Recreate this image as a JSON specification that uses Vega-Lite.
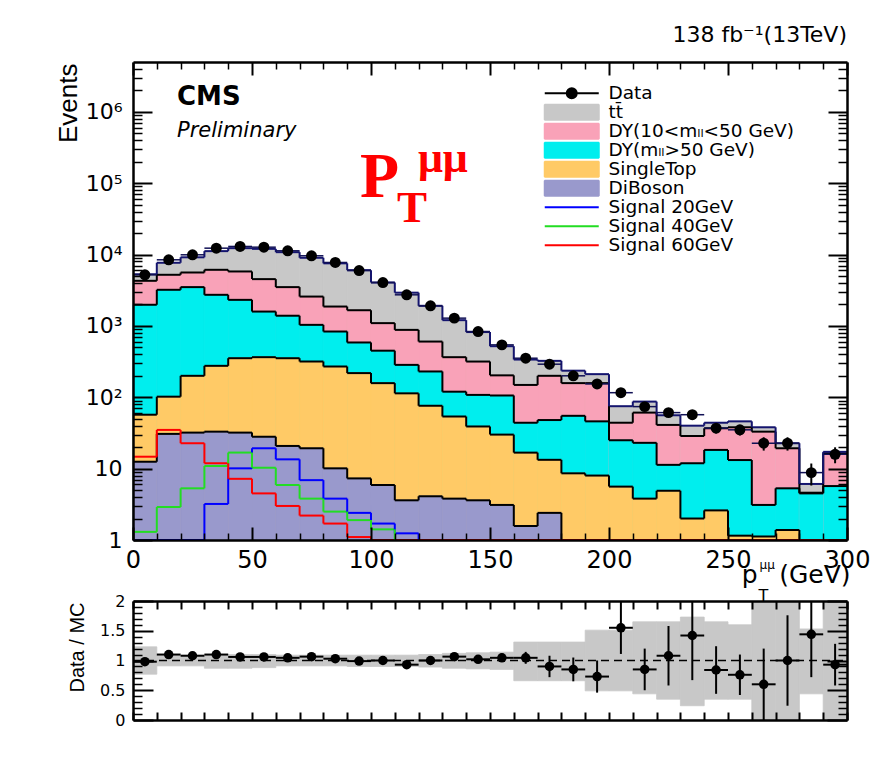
{
  "$schema": "https://vega.github.io/schema/vega-lite/v6.json",
  "background": "white",
  "autosize": {"type": "none"},
  "padding": {"left": 133, "top": 62, "right": 746, "bottom": 709},
  "bounds": "flush",
  "spacing": 61,
  "datasets": {
    "bins": [
      {"lo": 0, "hi": 10, "mid": 5, "tt\u0304": 1010, "DY(10<m\u2097\u2097<50 GeV)": 2310, "DY(m\u2097\u2097>50 GeV)": 1923, "SingleTop": 44.5, "DiBoson": 12.5, "Signal 20GeV": 0, "Signal 40GeV": 1.3, "Signal 60GeV": 14.7, "Data": 5210, "dData": 72, "ratio": 0.98, "dRatio": 0.03, "mcLo": 0.77, "mcHi": 1.23},
      {"lo": 10, "hi": 20, "mid": 15, "tt\u0304": 2470, "DY(10<m\u2097\u2097<50 GeV)": 2000, "DY(m\u2097\u2097>50 GeV)": 3108, "SingleTop": 71.3, "DiBoson": 30.7, "Signal 20GeV": 0, "Signal 40GeV": 2.9, "Signal 60GeV": 34.9, "Data": 8450, "dData": 92, "ratio": 1.1, "dRatio": 0.03, "mcLo": 0.91, "mcHi": 1.09},
      {"lo": 20, "hi": 30, "mid": 25, "tt\u0304": 3550, "DY(10<m\u2097\u2097<50 GeV)": 2110, "DY(m\u2097\u2097>50 GeV)": 3300, "SingleTop": 168, "DiBoson": 32, "Signal 20GeV": 0, "Signal 40GeV": 5.3, "Signal 60GeV": 22.7, "Data": 9930, "dData": 100, "ratio": 1.08, "dRatio": 0.03, "mcLo": 0.91, "mcHi": 1.09},
      {"lo": 30, "hi": 40, "mid": 35, "tt\u0304": 5060, "DY(10<m\u2097\u2097<50 GeV)": 3390, "DY(m\u2097\u2097>50 GeV)": 2454, "SingleTop": 243, "DiBoson": 33, "Signal 20GeV": 3.2, "Signal 40GeV": 10.9, "Signal 60GeV": 11.9, "Data": 12300, "dData": 111, "ratio": 1.1, "dRatio": 0.03, "mcLo": 0.87, "mcHi": 1.1},
      {"lo": 40, "hi": 50, "mid": 45, "tt\u0304": 6510, "DY(10<m\u2097\u2097<50 GeV)": 3480, "DY(m\u2097\u2097>50 GeV)": 1967, "SingleTop": 321, "DiBoson": 32, "Signal 20GeV": 10.1, "Signal 40GeV": 16.8, "Signal 60GeV": 7.2, "Data": 13000, "dData": 114, "ratio": 1.06, "dRatio": 0.03, "mcLo": 0.87, "mcHi": 1.1},
      {"lo": 50, "hi": 60, "mid": 55, "tt\u0304": 7500, "DY(10<m\u2097\u2097<50 GeV)": 2940, "DY(m\u2097\u2097>50 GeV)": 1225, "SingleTop": 337, "DiBoson": 28, "Signal 20GeV": 19.3, "Signal 40GeV": 10.3, "Signal 60GeV": 4.5, "Data": 12700, "dData": 113, "ratio": 1.06, "dRatio": 0.03, "mcLo": 0.88, "mcHi": 1.1},
      {"lo": 60, "hi": 70, "mid": 65, "tt\u0304": 7310, "DY(10<m\u2097\u2097<50 GeV)": 2110, "DY(m\u2097\u2097>50 GeV)": 1037, "SingleTop": 332, "DiBoson": 20.8, "Signal 20GeV": 13.5, "Signal 40GeV": 5.9, "Signal 60GeV": 3.0, "Data": 11300, "dData": 106, "ratio": 1.045, "dRatio": 0.03, "mcLo": 0.91, "mcHi": 1.09},
      {"lo": 70, "hi": 80, "mid": 75, "tt\u0304": 6440, "DY(10<m\u2097\u2097<50 GeV)": 1545, "DY(m\u2097\u2097>50 GeV)": 718, "SingleTop": 298, "DiBoson": 19.3, "Signal 20GeV": 6.9, "Signal 40GeV": 3.8, "Signal 60GeV": 2.2, "Data": 9620, "dData": 98, "ratio": 1.065, "dRatio": 0.03, "mcLo": 0.91, "mcHi": 1.09},
      {"lo": 80, "hi": 90, "mid": 85, "tt\u0304": 5670, "DY(10<m\u2097\u2097<50 GeV)": 1035, "DY(m\u2097\u2097>50 GeV)": 565, "SingleTop": 260, "DiBoson": 10.1, "Signal 20GeV": 3.8, "Signal 40GeV": 2.5, "Signal 60GeV": 1.7, "Data": 7750, "dData": 88, "ratio": 1.03, "dRatio": 0.03, "mcLo": 0.91, "mcHi": 1.09},
      {"lo": 90, "hi": 100, "mid": 95, "tt\u0304": 4390, "DY(10<m\u2097\u2097<50 GeV)": 1074, "DY(m\u2097\u2097>50 GeV)": 368, "SingleTop": 211, "DiBoson": 7.3, "Signal 20GeV": 2.4, "Signal 40GeV": 1.9, "Signal 60GeV": 1.1, "Data": 5980, "dData": 77, "ratio": 0.99, "dRatio": 0.03, "mcLo": 0.9, "mcHi": 1.09},
      {"lo": 100, "hi": 110, "mid": 105, "tt\u0304": 2965, "DY(10<m\u2097\u2097<50 GeV)": 645, "DY(m\u2097\u2097>50 GeV)": 292, "SingleTop": 152, "DiBoson": 5.9, "Signal 20GeV": 1.7, "Signal 40GeV": 1.41, "Signal 60GeV": 0, "Data": 4060, "dData": 64, "ratio": 1.0, "dRatio": 0.03, "mcLo": 0.9, "mcHi": 1.09},
      {"lo": 110, "hi": 120, "mid": 115, "tt\u0304": 2045, "DY(10<m\u2097\u2097<50 GeV)": 596, "DY(m\u2097\u2097>50 GeV)": 171, "SingleTop": 110, "DiBoson": 3.6, "Signal 20GeV": 1.24, "Signal 40GeV": 0, "Signal 60GeV": 0, "Data": 2730, "dData": 52, "ratio": 0.93, "dRatio": 0.03, "mcLo": 0.9, "mcHi": 1.09},
      {"lo": 120, "hi": 130, "mid": 125, "tt\u0304": 1311, "DY(10<m\u2097\u2097<50 GeV)": 374, "DY(m\u2097\u2097>50 GeV)": 154, "SingleTop": 72, "DiBoson": 4.1, "Signal 20GeV": 0, "Signal 40GeV": 0, "Signal 60GeV": 0, "Data": 1915, "dData": 44, "ratio": 1.0, "dRatio": 0.04, "mcLo": 0.89, "mcHi": 1.1},
      {"lo": 130, "hi": 140, "mid": 135, "tt\u0304": 840, "DY(10<m\u2097\u2097<50 GeV)": 245, "DY(m\u2097\u2097>50 GeV)": 66, "SingleTop": 50, "DiBoson": 3.8, "Signal 20GeV": 0, "Signal 40GeV": 0, "Signal 60GeV": 0, "Data": 1286, "dData": 36, "ratio": 1.065, "dRatio": 0.05, "mcLo": 0.87, "mcHi": 1.12},
      {"lo": 140, "hi": 150, "mid": 145, "tt\u0304": 504, "DY(10<m\u2097\u2097<50 GeV)": 209, "DY(m\u2097\u2097>50 GeV)": 69, "SingleTop": 35.4, "DiBoson": 3.6, "Signal 20GeV": 0, "Signal 40GeV": 0, "Signal 60GeV": 0, "Data": 835, "dData": 29, "ratio": 1.02, "dRatio": 0.05, "mcLo": 0.86, "mcHi": 1.13},
      {"lo": 150, "hi": 160, "mid": 155, "tt\u0304": 317, "DY(10<m\u2097\u2097<50 GeV)": 97, "DY(m\u2097\u2097>50 GeV)": 76, "SingleTop": 26.9, "DiBoson": 3.1, "Signal 20GeV": 0, "Signal 40GeV": 0, "Signal 60GeV": 0, "Data": 543, "dData": 23, "ratio": 1.045, "dRatio": 0.07, "mcLo": 0.85, "mcHi": 1.14},
      {"lo": 160, "hi": 170, "mid": 165, "tt\u0304": 189, "DY(10<m\u2097\u2097<50 GeV)": 105, "DY(m\u2097\u2097>50 GeV)": 27.2, "SingleTop": 15.2, "DiBoson": 1.57, "Signal 20GeV": 0, "Signal 40GeV": 0, "Signal 60GeV": 0, "Data": 353, "dData": 19, "ratio": 1.045, "dRatio": 0.1, "mcLo": 0.66, "mcHi": 1.31},
      {"lo": 170, "hi": 180, "mid": 175, "tt\u0304": 124, "DY(10<m\u2097\u2097<50 GeV)": 152, "DY(m\u2097\u2097>50 GeV)": 34.7, "SingleTop": 10.9, "DiBoson": 2.4, "Signal 20GeV": 0, "Signal 40GeV": 0, "Signal 60GeV": 0, "Data": 291, "dData": 17, "ratio": 0.9, "dRatio": 0.18, "mcLo": 0.66, "mcHi": 1.31},
      {"lo": 180, "hi": 190, "mid": 185, "tt\u0304": 78, "DY(10<m\u2097\u2097<50 GeV)": 103, "DY(m\u2097\u2097>50 GeV)": 46.4, "SingleTop": 8.6, "DiBoson": 0, "Signal 20GeV": 0, "Signal 40GeV": 0, "Signal 60GeV": 0, "Data": 200, "dData": 14, "ratio": 0.85, "dRatio": 0.2, "mcLo": 0.66, "mcHi": 1.31},
      {"lo": 190, "hi": 200, "mid": 195, "tt\u0304": 53, "DY(10<m\u2097\u2097<50 GeV)": 112, "DY(m\u2097\u2097>50 GeV)": 38, "SingleTop": 8.0, "DiBoson": 0, "Signal 20GeV": 0, "Signal 40GeV": 0, "Signal 60GeV": 0, "Data": 154, "dData": 12, "ratio": 0.73, "dRatio": 0.27, "mcLo": 0.49, "mcHi": 1.51},
      {"lo": 200, "hi": 210, "mid": 205, "tt\u0304": 31, "DY(10<m\u2097\u2097<50 GeV)": 19, "DY(m\u2097\u2097>50 GeV)": 19.4, "SingleTop": 5.6, "DiBoson": 0, "Signal 20GeV": 0, "Signal 40GeV": 0, "Signal 60GeV": 0, "Data": 116, "dData": 11, "ratio": 1.55, "dRatio": 0.44, "mcLo": 0.49, "mcHi": 1.51},
      {"lo": 210, "hi": 220, "mid": 215, "tt\u0304": 26, "DY(10<m\u2097\u2097<50 GeV)": 38, "DY(m\u2097\u2097>50 GeV)": 19.2, "SingleTop": 3.8, "DiBoson": 0, "Signal 20GeV": 0, "Signal 40GeV": 0, "Signal 60GeV": 0, "Data": 74, "dData": 8.6, "ratio": 0.85, "dRatio": 0.35, "mcLo": 0.44, "mcHi": 1.65},
      {"lo": 220, "hi": 230, "mid": 225, "tt\u0304": 15, "DY(10<m\u2097\u2097<50 GeV)": 29.7, "DY(m\u2097\u2097>50 GeV)": 6.4, "SingleTop": 4.9, "DiBoson": 0, "Signal 20GeV": 0, "Signal 40GeV": 0, "Signal 60GeV": 0, "Data": 61, "dData": 7.8, "ratio": 1.08, "dRatio": 0.5, "mcLo": 0.35, "mcHi": 1.65},
      {"lo": 230, "hi": 240, "mid": 235, "tt\u0304": 11.3, "DY(10<m\u2097\u2097<50 GeV)": 16.8, "DY(m\u2097\u2097>50 GeV)": 9.9, "SingleTop": 2.0, "DiBoson": 0, "Signal 20GeV": 0, "Signal 40GeV": 0, "Signal 60GeV": 0, "Data": 57, "dData": 7.5, "ratio": 1.42, "dRatio": 0.75, "mcLo": 0.24, "mcHi": 1.73},
      {"lo": 240, "hi": 250, "mid": 245, "tt\u0304": 7.2, "DY(10<m\u2097\u2097<50 GeV)": 18.5, "DY(m\u2097\u2097>50 GeV)": 15.7, "SingleTop": 2.6, "DiBoson": 0, "Signal 20GeV": 0, "Signal 40GeV": 0, "Signal 60GeV": 0, "Data": 37, "dData": 6, "ratio": 0.84, "dRatio": 0.4, "mcLo": 0.35, "mcHi": 1.65},
      {"lo": 250, "hi": 260, "mid": 255, "tt\u0304": 8, "DY(10<m\u2097\u2097<50 GeV)": 24.8, "DY(m\u2097\u2097>50 GeV)": 12.05, "SingleTop": 1.15, "DiBoson": 0, "Signal 20GeV": 0, "Signal 40GeV": 0, "Signal 60GeV": 0, "Data": 35, "dData": 5.9, "ratio": 0.76, "dRatio": 0.34, "mcLo": 0.35, "mcHi": 1.6},
      {"lo": 260, "hi": 270, "mid": 265, "tt\u0304": 5, "DY(10<m\u2097\u2097<50 GeV)": 29.9, "DY(m\u2097\u2097>50 GeV)": 1.98, "SingleTop": 1.12, "DiBoson": 0, "Signal 20GeV": 0, "Signal 40GeV": 0, "Signal 60GeV": 0, "Data": 22.7, "dData": 4.8, "ratio": 0.6, "dRatio": 0.6, "mcLo": 0, "mcHi": 2},
      {"lo": 270, "hi": 280, "mid": 275, "tt\u0304": 3.4, "DY(10<m\u2097\u2097<50 GeV)": 14, "DY(m\u2097\u2097>50 GeV)": 3.92, "SingleTop": 1.38, "DiBoson": 0, "Signal 20GeV": 0, "Signal 40GeV": 0, "Signal 60GeV": 0, "Data": 22.7, "dData": 4.8, "ratio": 1.0, "dRatio": 0.76, "mcLo": 0, "mcHi": 2},
      {"lo": 280, "hi": 290, "mid": 285, "tt\u0304": 1.5, "DY(10<m\u2097\u2097<50 GeV)": 0.1, "DY(m\u2097\u2097>50 GeV)": 4.5, "SingleTop": 0, "DiBoson": 0, "Signal 20GeV": 0, "Signal 40GeV": 0, "Signal 60GeV": 0, "Data": 8.8, "dData": 3, "ratio": 1.44, "dRatio": 0.72, "mcLo": 0.44, "mcHi": 1.53},
      {"lo": 290, "hi": 300, "mid": 295, "tt\u0304": 0.8, "DY(10<m\u2097\u2097<50 GeV)": 10.7, "DY(m\u2097\u2097>50 GeV)": 5.7, "SingleTop": 0, "DiBoson": 0, "Signal 20GeV": 0, "Signal 40GeV": 0, "Signal 60GeV": 0, "Data": 15.9, "dData": 4, "ratio": 0.93, "dRatio": 0.35, "mcLo": 0, "mcHi": 2}
    ]
  },
  "vconcat": [
    {
      "width": 714,
      "height": 478,
      "title": {"text": "138 fb\u207b\u00b9(13TeV)", "anchor": "end", "frame": "group", "font": "DejaVu Sans", "fontSize": 22, "fontWeight": "normal", "color": "black", "baseline": "alphabetic", "offset": 17, "dy": 20},
      "data": {"name": "bins"},
      "resolve": {"axis": {"x": "independent", "y": "independent"}},
      "layer": [
        {
          "transform": [
            {"fold": ["DiBoson", "SingleTop", "DY(m\u2097\u2097>50 GeV)", "DY(10<m\u2097\u2097<50 GeV)", "tt\u0304"], "as": ["key", "n"]},
            {"stack": "n", "groupby": ["lo"], "as": ["s0", "s1"]}
          ],
          "mark": {"type": "rect", "strokeWidth": 0.8},
          "encoding": {
            "x": {"field": "lo", "type": "quantitative", "scale": {"domain": [0, 300], "nice": false, "zero": false},
              "axis": {"orient": "bottom", "values": [0, 50, 100, 150, 200, 250, 300], "format": "d", "tickSize": -13, "tickWidth": 2, "domain": true, "domainWidth": 2.5, "labelFontSize": 24, "labelPadding": 21, "labelFlush": false, "labelOverlap": false, "title": "(GeV)", "titleFontSize": 25, "titleAlign": "right", "titleX": 717, "titleY": 42, "titleBaseline": "alphabetic", "zindex": 1}},
            "x2": {"field": "hi"},
            "y": {"field": "s1", "type": "quantitative", "scale": {"type": "log", "domain": [1, 5000000], "nice": false, "clamp": true},
              "axis": {"orient": "left", "values": [1, 10, 100, 1000, 10000, 100000, 1000000], "labelExpr": "datum.value < 100 ? (datum.value < 5 ? '1' : '10') : '10' + ['\u00b2','\u00b3','\u2074','\u2075','\u2076'][round(log(datum.value)/LN10) - 2]", "tickSize": -19, "tickWidth": 2, "domain": true, "domainWidth": 2.5, "labelFontSize": 22, "labelPadding": 30, "labelOverlap": false, "title": "Events", "titleFont": "Liberation Sans", "titleFontSize": 26, "titleAngle": -90, "titleAlign": "right", "titleBaseline": "alphabetic", "titleX": -57, "titleY": 1, "zindex": 1}},
            "y2": {"datum": 1},
            "color": {"field": "key", "type": "nominal",
              "scale": {"domain": ["Data", "tt\u0304", "DY(10<m\u2097\u2097<50 GeV)", "DY(m\u2097\u2097>50 GeV)", "SingleTop", "DiBoson", "Signal 20GeV", "Signal 40GeV", "Signal 60GeV"],
                "range": ["black", "#c8c8c8", "#f9a2b8", "#00eeee", "#ffca66", "#9999cc", "#0000ff", "#22dd22", "#ff0000"]},
              "legend": {
                "orient": "none", "legendX": 429.5, "legendY": 22, "title": null, "padding": 0,
                "labelFont": "DejaVu Sans", "labelFontSize": 18.5, "labelColor": "black", "labelOffset": 27.5, "labelLimit": 400,
                "rowPadding": 0, "symbolSize": 100, "symbolStrokeWidth": 2,
                "encode": {
                  "symbols": {
                    "update": {
                      "shape": {"signal": "datum.value === 'Data' ? 'M-5.4,0L5.4,0M-1,0A1,1,0,1,1,1,0A1,1,0,1,1,-1,0Z' : indexof(datum.value, 'Signal') === 0 ? 'M-5.4,0L5.4,0' : 'M-5.4,-1.5L5.4,-1.5L5.4,1.5L-5.4,1.5Z'"},
                      "fill": {"signal": "datum.value === 'Data' ? 'black' : datum.value === 'tt\u0304' ? '#c8c8c8' : indexof(datum.value, 'DY(10') === 0 ? '#f9a2b8' : indexof(datum.value, 'DY(m') === 0 ? '#00eeee' : datum.value === 'SingleTop' ? '#ffca66' : datum.value === 'DiBoson' ? '#9999cc' : 'transparent'"},
                      "stroke": {"signal": "datum.value === 'Signal 20GeV' ? '#0000ff' : datum.value === 'Signal 40GeV' ? '#22dd22' : datum.value === 'Signal 60GeV' ? '#ff0000' : 'black'"},
                      "strokeWidth": {"value": 2},
                      "strokeJoin": {"value": "bevel"},
                      "size": {"value": 100},
                      "opacity": {"value": 1}
                    }
                  }
                }
              }},
            "stroke": {"field": "key", "type": "nominal", "legend": null,
              "scale": {"domain": ["Data", "tt\u0304", "DY(10<m\u2097\u2097<50 GeV)", "DY(m\u2097\u2097>50 GeV)", "SingleTop", "DiBoson", "Signal 20GeV", "Signal 40GeV", "Signal 60GeV"],
                "range": ["black", "#c8c8c8", "#f9a2b8", "#00eeee", "#ffca66", "#9999cc", "#0000ff", "#22dd22", "#ff0000"]}},
            "order": {"field": "s1", "sort": "descending"}
          }
        },
        {
          "transform": [
            {"fold": ["DiBoson", "SingleTop", "DY(m\u2097\u2097>50 GeV)", "DY(10<m\u2097\u2097<50 GeV)", "tt\u0304"], "as": ["key", "n"]},
            {"stack": "n", "groupby": ["lo"], "as": ["s0", "s1"]}
          ],
          "mark": {"type": "rule", "strokeWidth": 2},
          "encoding": {
            "x": {"field": "lo", "type": "quantitative",
              "axis": {"orient": "bottom", "values": [10, 20, 30, 40, 60, 70, 80, 90, 110, 120, 130, 140, 160, 170, 180, 190, 210, 220, 230, 240, 260, 270, 280, 290], "tickSize": -7, "tickWidth": 1.5, "domain": false, "labels": false, "title": "p", "titleFontSize": 25, "titleAlign": "right", "titleX": 624, "titleY": 42, "titleBaseline": "alphabetic", "zindex": 1}},
            "x2": {"field": "hi"},
            "y": {"field": "s1", "type": "quantitative",
              "axis": {"orient": "left", "values": [2, 3, 4, 5, 6, 7, 8, 9, 20, 30, 40, 50, 60, 70, 80, 90, 200, 300, 400, 500, 600, 700, 800, 900, 2000, 3000, 4000, 5000, 6000, 7000, 8000, 9000, 20000, 30000, 40000, 50000, 60000, 70000, 80000, 90000, 200000, 300000, 400000, 500000, 600000, 700000, 800000, 900000, 2000000, 3000000, 4000000], "tickSize": -9, "tickWidth": 1.5, "domain": false, "labels": false, "title": null, "zindex": 1}},
            "stroke": {"condition": {"test": "datum.key === 'tt\u0304'", "value": "#14146e"}, "value": "black"}
          }
        },
        {
          "transform": [
            {"fold": ["DiBoson", "SingleTop", "DY(m\u2097\u2097>50 GeV)", "DY(10<m\u2097\u2097<50 GeV)", "tt\u0304"], "as": ["key", "n"]},
            {"stack": "n", "groupby": ["lo"], "as": ["s0", "s1"]},
            {"window": [{"op": "lag", "field": "s1", "as": "prev"}], "groupby": ["key"], "sort": [{"field": "lo", "order": "ascending"}]},
            {"filter": "datum.prev != null"}
          ],
          "mark": {"type": "rule", "strokeWidth": 2},
          "encoding": {
            "x": {"field": "lo", "type": "quantitative",
              "axis": {"orient": "top", "values": [0, 50, 100, 150, 200, 250, 300], "tickSize": -13, "tickWidth": 2, "domain": true, "domainWidth": 2.5, "labels": false, "title": "T", "titleFontSize": 16, "titleAlign": "left", "titleX": 625, "titleY": 538, "titleBaseline": "alphabetic", "zindex": 1}},
            "y": {"field": "s1", "type": "quantitative",
              "axis": {"orient": "right", "values": [1, 10, 100, 1000, 10000, 100000, 1000000], "tickSize": -19, "tickWidth": 2, "domain": true, "domainWidth": 2.5, "labels": false, "title": null, "zindex": 1}},
            "y2": {"field": "prev"},
            "stroke": {"condition": {"test": "datum.key === 'tt\u0304'", "value": "#14146e"}, "value": "black"}
          }
        },
        {
          "transform": [
            {"fold": ["Signal 20GeV", "Signal 40GeV", "Signal 60GeV"], "as": ["key", "n"]}
          ],
          "mark": {"type": "rule", "strokeWidth": 2},
          "encoding": {
            "x": {"field": "lo", "type": "quantitative",
              "axis": {"orient": "top", "values": [10, 20, 30, 40, 60, 70, 80, 90, 110, 120, 130, 140, 160, 170, 180, 190, 210, 220, 230, 240, 260, 270, 280, 290], "tickSize": -7, "tickWidth": 1.5, "domain": false, "labels": false, "title": "\u03bc\u03bc", "titleFontSize": 12, "titleAlign": "left", "titleX": 626, "titleY": 506, "titleBaseline": "alphabetic", "zindex": 1}},
            "x2": {"field": "hi"},
            "y": {"field": "n", "type": "quantitative",
              "axis": {"orient": "right", "values": [2, 3, 4, 5, 6, 7, 8, 9, 20, 30, 40, 50, 60, 70, 80, 90, 200, 300, 400, 500, 600, 700, 800, 900, 2000, 3000, 4000, 5000, 6000, 7000, 8000, 9000, 20000, 30000, 40000, 50000, 60000, 70000, 80000, 90000, 200000, 300000, 400000, 500000, 600000, 700000, 800000, 900000, 2000000, 3000000, 4000000], "tickSize": -9, "tickWidth": 1.5, "domain": false, "labels": false, "title": null, "zindex": 1}},
            "color": {"field": "key", "type": "nominal"}
          }
        },
        {
          "transform": [
            {"fold": ["Signal 20GeV", "Signal 40GeV", "Signal 60GeV"], "as": ["key", "n"]},
            {"window": [{"op": "lag", "field": "n", "as": "prev"}], "groupby": ["key"], "sort": [{"field": "lo", "order": "ascending"}]},
            {"filter": "datum.prev != null"}
          ],
          "mark": {"type": "rule", "strokeWidth": 2},
          "encoding": {
            "x": {"field": "lo", "type": "quantitative", "axis": null},
            "y": {"field": "n", "type": "quantitative", "axis": null},
            "y2": {"field": "prev"},
            "color": {"field": "key", "type": "nominal"}
          }
        },
        {
          "mark": {"type": "rule", "strokeWidth": 1.5, "color": "#111155"},
          "encoding": {
            "x": {"field": "lo", "type": "quantitative", "axis": null},
            "x2": {"field": "hi"},
            "y": {"field": "Data", "type": "quantitative", "axis": null}
          }
        },
        {
          "mark": {"type": "errorbar", "ticks": false, "rule": {"strokeWidth": 2, "color": "black"}},
          "encoding": {
            "x": {"field": "mid", "type": "quantitative", "axis": null},
            "y": {"field": "Data", "type": "quantitative", "axis": null},
            "yError": {"field": "dData"}
          }
        },
        {
          "mark": {"type": "point", "filled": true, "size": 120, "color": "black", "opacity": 1},
          "encoding": {
            "x": {"field": "mid", "type": "quantitative", "axis": null},
            "y": {"field": "Data", "type": "quantitative", "axis": null}
          }
        },
        {
          "data": {"values": [{"t": "CMS"}]},
          "mark": {"type": "text", "align": "left", "baseline": "alphabetic", "font": "DejaVu Sans", "fontWeight": "bold", "fontSize": 26, "color": "black"},
          "encoding": {"x": {"datum": 18.5, "type": "quantitative", "axis": null}, "y": {"datum": 1260000, "type": "quantitative", "axis": null}, "text": {"field": "t"}}
        },
        {
          "data": {"values": [{"t": "Preliminary"}]},
          "mark": {"type": "text", "align": "left", "baseline": "alphabetic", "font": "DejaVu Sans", "fontStyle": "italic", "fontSize": 21, "color": "black"},
          "encoding": {"x": {"datum": 18.5, "type": "quantitative", "axis": null}, "y": {"datum": 449000, "type": "quantitative", "axis": null}, "text": {"field": "t"}}
        },
        {
          "data": {"values": [{"t": "P"}]},
          "mark": {"type": "text", "align": "left", "baseline": "alphabetic", "font": "Liberation Serif", "fontWeight": "bold", "fontSize": 64, "color": "#ff0000"},
          "encoding": {"x": {"datum": 95.4, "type": "quantitative", "axis": null}, "y": {"datum": 64600, "type": "quantitative", "axis": null}, "text": {"field": "t"}}
        },
        {
          "data": {"values": [{"t": "T"}]},
          "mark": {"type": "text", "align": "left", "baseline": "alphabetic", "font": "Liberation Serif", "fontWeight": "bold", "fontSize": 45, "color": "#ff0000"},
          "encoding": {"x": {"datum": 110.9, "type": "quantitative", "axis": null}, "y": {"datum": 28800, "type": "quantitative", "axis": null}, "text": {"field": "t"}}
        },
        {
          "data": {"values": [{"t": "\u03bc\u03bc"}]},
          "mark": {"type": "text", "align": "left", "baseline": "alphabetic", "font": "Liberation Serif", "fontWeight": "bold", "fontSize": 44, "color": "#ff0000"},
          "encoding": {"x": {"datum": 119.7, "type": "quantitative", "axis": null}, "y": {"datum": 145000, "type": "quantitative", "axis": null}, "text": {"field": "t"}}
        }
      ]
    },
    {
      "width": 714,
      "height": 119,
      "data": {"name": "bins"},
      "resolve": {"axis": {"x": "independent", "y": "independent"}},
      "layer": [
        {
          "mark": {"type": "rect", "color": "#c8c8c8", "stroke": "#c8c8c8", "strokeWidth": 0.8, "clip": true},
          "encoding": {
            "x": {"field": "lo", "type": "quantitative", "scale": {"domain": [0, 300], "nice": false, "zero": false},
              "axis": {"orient": "bottom", "values": [0, 10, 20, 30, 40, 50, 60, 70, 80, 90, 100, 110, 120, 130, 140, 150, 160, 170, 180, 190, 200, 210, 220, 230, 240, 250, 260, 270, 280, 290, 300], "tickSize": -8, "tickWidth": 2, "domain": true, "domainWidth": 2.5, "labels": false, "title": null, "zindex": 1}},
            "x2": {"field": "hi"},
            "y": {"field": "mcLo", "type": "quantitative", "scale": {"domain": [0, 2], "nice": false, "zero": false},
              "axis": {"orient": "left", "values": [0, 0.5, 1, 1.5, 2], "format": "~g", "tickSize": -20, "tickWidth": 2, "domain": true, "domainWidth": 2.5, "labelFontSize": 16, "labelPadding": 28, "labelOverlap": false, "title": "Data / MC", "titleFont": "Liberation Sans", "titleFontSize": 20, "titleAngle": -90, "titleAlign": "right", "titleBaseline": "alphabetic", "titleX": -50, "titleY": 1, "zindex": 1}},
            "y2": {"field": "mcHi"}
          }
        },
        {
          "data": {"values": [{"ref": 1}]},
          "mark": {"type": "rule", "strokeDash": [8, 5], "strokeWidth": 1.5, "color": "black"},
          "encoding": {
            "x": {"datum": 0, "type": "quantitative",
              "axis": {"orient": "top", "values": [0, 10, 20, 30, 40, 50, 60, 70, 80, 90, 100, 110, 120, 130, 140, 150, 160, 170, 180, 190, 200, 210, 220, 230, 240, 250, 260, 270, 280, 290, 300], "tickSize": -8, "tickWidth": 2, "domain": true, "domainWidth": 2.5, "labels": false, "title": null, "zindex": 1}},
            "x2": {"datum": 300},
            "y": {"field": "ref", "type": "quantitative",
              "axis": {"orient": "left", "values": [0.1, 0.2, 0.3, 0.4, 0.6, 0.7, 0.8, 0.9, 1.1, 1.2, 1.3, 1.4, 1.6, 1.7, 1.8, 1.9], "tickSize": -9, "tickWidth": 1.5, "domain": false, "labels": false, "title": null, "zindex": 1}}
          }
        },
        {
          "mark": {"type": "errorbar", "ticks": false, "clip": true, "rule": {"strokeWidth": 2, "color": "black"}},
          "encoding": {
            "x": {"field": "mid", "type": "quantitative", "axis": null},
            "y": {"field": "ratio", "type": "quantitative",
              "axis": {"orient": "right", "values": [0, 0.5, 1, 1.5, 2], "tickSize": -20, "tickWidth": 2, "domain": true, "domainWidth": 2.5, "labels": false, "title": null, "zindex": 1}},
            "yError": {"field": "dRatio"}
          }
        },
        {
          "mark": {"type": "rule", "strokeWidth": 2, "color": "black"},
          "encoding": {
            "x": {"field": "lo", "type": "quantitative", "axis": null},
            "x2": {"field": "hi"},
            "y": {"field": "ratio", "type": "quantitative",
              "axis": {"orient": "right", "values": [0.1, 0.2, 0.3, 0.4, 0.6, 0.7, 0.8, 0.9, 1.1, 1.2, 1.3, 1.4, 1.6, 1.7, 1.8, 1.9], "tickSize": -9, "tickWidth": 1.5, "domain": false, "labels": false, "title": null, "zindex": 1}}
          }
        },
        {
          "mark": {"type": "point", "filled": true, "size": 90, "color": "black", "opacity": 1},
          "encoding": {
            "x": {"field": "mid", "type": "quantitative", "axis": null},
            "y": {"field": "ratio", "type": "quantitative", "axis": null}
          }
        }
      ]
    }
  ],
  "config": {
    "view": {"stroke": null},
    "font": "DejaVu Sans",
    "axis": {"grid": false, "tickColor": "black", "domainColor": "black", "labelColor": "black", "titleColor": "black", "labelFont": "DejaVu Sans", "titleFont": "DejaVu Sans", "titleFontWeight": "normal"}
  }
}
